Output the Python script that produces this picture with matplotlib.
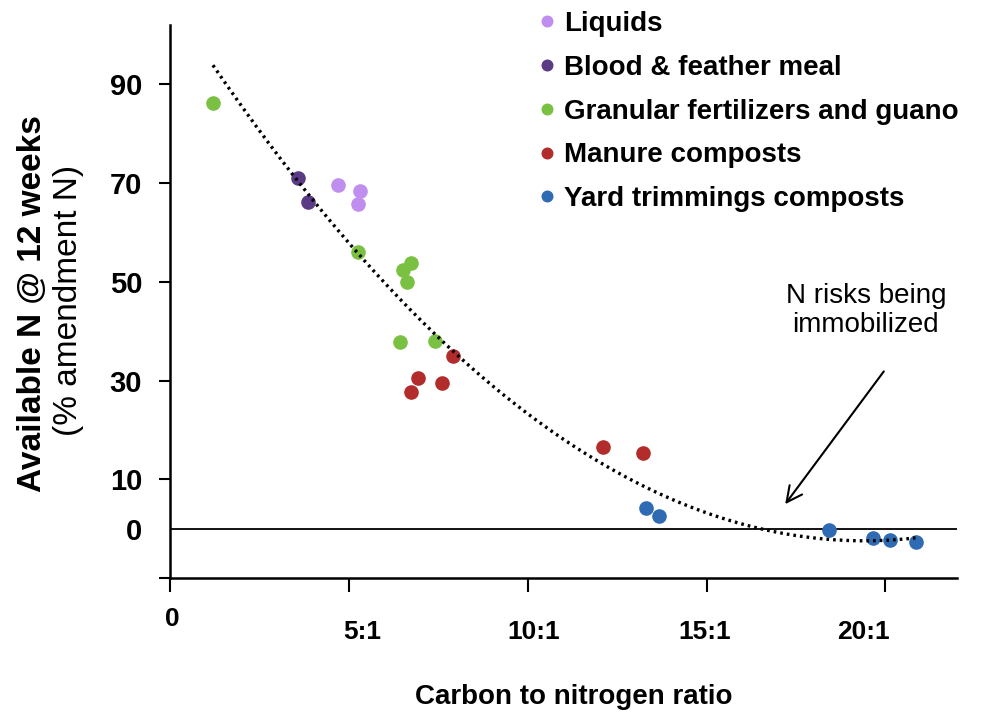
import matplotlib
matplotlib.use("Agg")
import matplotlib.pyplot as plt
import matplotlib.transforms as mtransforms
import numpy as np

plt.rcParams['font.family'] = ['Liberation Sans', 'DejaVu Sans']

# C:N ratio (x) and available N @ 12 weeks, % of amendment N (y)
liquids_x = [4.7, 5.31, 5.26]
liquids_y = [69.7, 68.3, 65.7]
blood_x = [3.58, 3.86]
blood_y = [71.1, 66.1]
granular_x = [1.2, 5.26, 6.74, 6.52, 6.63, 6.43, 7.41]
granular_y = [86.3, 56.0, 53.9, 52.3, 49.9, 37.9, 38.1]
manure_x = [7.92, 6.94, 6.74, 7.61, 12.11, 13.23]
manure_y = [34.9, 30.5, 27.6, 29.4, 16.5, 15.3]
yard_x = [13.31, 13.68, 18.43, 19.66, 20.14, 20.84]
yard_y = [4.1, 2.5, -0.3, -1.8, -2.3, -2.8]

groups = ["Liquids", "Blood & feather meal", "Granular fertilizers and guano",
          "Manure composts", "Yard trimmings composts"]
colors = ["#C08EEE", "#5B3A86", "#7AC143", "#B22C2C", "#2F6BB3"]

xticks = [0, 5, 10, 15, 20]
xtick_labels = ["0", "5:1", "10:1", "15:1", "20:1"]
yticks = [-10, 0, 10, 30, 50, 70, 90]
ytick_labels = ["", "0", "10", "30", "50", "70", "90"]


def main():
    fig = plt.figure(figsize=(9.85, 7.15), dpi=100)
    ax = fig.add_axes([0.1726, 0.1916, 0.799, 0.7734])

    series = [(liquids_x, liquids_y), (blood_x, blood_y), (granular_x, granular_y),
              (manure_x, manure_y), (yard_x, yard_y)]
    for (xs, ys), name, c in zip(series, groups, colors):
        ax.plot(xs, ys, 'o', ms=9.5, color=c, mec=c, label=name, zorder=3)

    # 2nd order trend line over all points
    all_x = np.concatenate([s[0] for s in series])
    all_y = np.concatenate([s[1] for s in series])
    coef = np.polyfit(all_x, all_y, 2)
    tx = np.linspace(all_x.min(), all_x.max(), 300)
    ax.plot(tx, np.polyval(coef, tx), color='black', lw=2.4,
            ls=(0, (0.8, 1.2)), zorder=4)

    ax.axhline(0, color='black', lw=1.3, zorder=1)

    ax.annotate('', xy=(17.15, 4.5), xytext=(20.0, 32.3),
                arrowprops=dict(arrowstyle='->', color='black', lw=1.5,
                                mutation_scale=28))
    ax.text(19.45, 44.2, "N risks being\nimmobilized", ha='center', va='center',
            fontsize=20, linespacing=1.15)

    ax.set_xlim(0, 22)
    ax.set_ylim(-10, 102)
    for s in ['top', 'right']:
        ax.spines[s].set_visible(False)
    for s in ['left', 'bottom']:
        ax.spines[s].set_linewidth(1.8)

    ax.set_yticks(yticks)
    ax.set_yticklabels(ytick_labels, fontsize=21, fontweight='bold')
    ax.set_xticks(xticks)
    ax.set_xticklabels(xtick_labels, fontsize=19, fontweight='bold')
    ax.tick_params(axis='y', direction='out', length=8, width=1.5, pad=12)
    ax.tick_params(axis='x', direction='out', length=10, width=1.5, pad=20)
    ax.yaxis.get_major_ticks()[1].tick1line.set_visible(False)

    # nudge x tick labels like the original
    shifts = [(2, 13), (13, 0), (6, 0), (-2, 0), (-22, 0)]
    for lab, (dx, dy) in zip(ax.get_xticklabels(), shifts):
        off = mtransforms.ScaledTranslation(dx / 100, dy / 100, fig.dpi_scale_trans)
        lab.set_transform(lab.get_transform() + off)

    fig.text(574 / 985, 1 - 697 / 715, "Carbon to nitrogen ratio", ha='center',
             va='center', fontsize=20, fontweight='bold')
    fig.text(33 / 985, 1 - 304 / 715, "Available N @ 12 weeks", rotation=90,
             ha='center', va='center', fontsize=24, fontweight='bold')
    fig.text(69 / 985, 1 - 300 / 715, "(% amendment N)", rotation=90,
             ha='center', va='center', fontsize=24)

    ax.legend(loc='upper left', bbox_to_anchor=(536 / 985, 1 - 11 / 715),
              bbox_transform=fig.transFigure, frameon=False,
              prop={'size': 20, 'weight': 'bold'}, handletextpad=0.2,
              handlelength=0.8, labelspacing=0.64, markerscale=0.8,
              borderaxespad=0, borderpad=0)

    fig.savefig("out.png", dpi=100)


if __name__ == "__main__":
    main()
